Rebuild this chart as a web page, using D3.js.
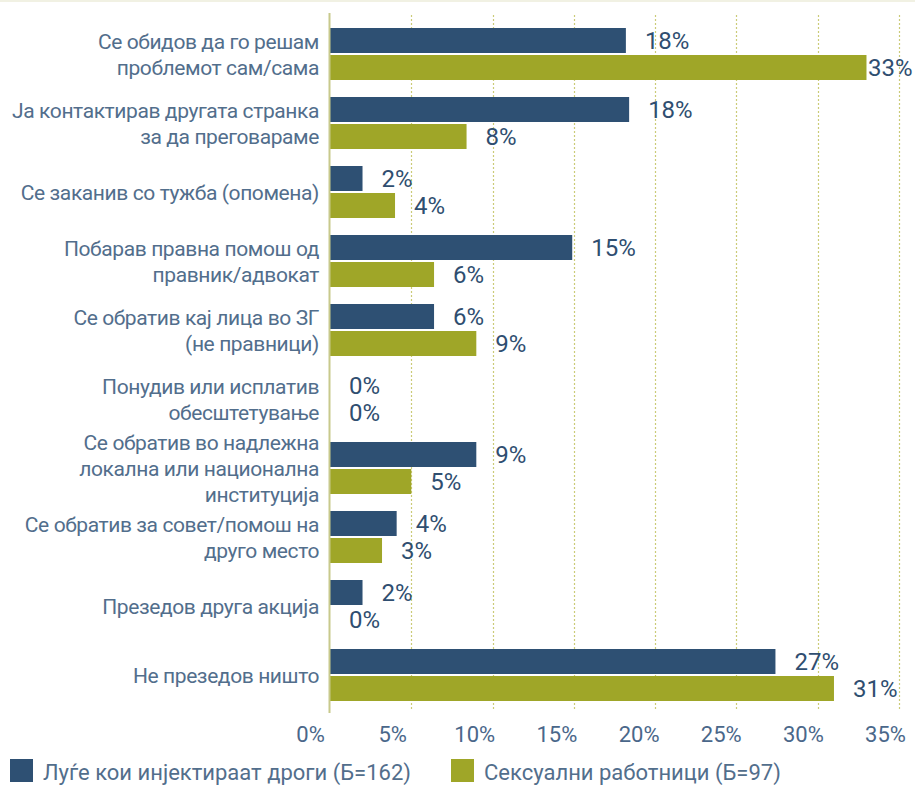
<!DOCTYPE html>
<html>
<head>
<meta charset="utf-8">
<script src="https://cdn.jsdelivr.net/npm/d3@7"></script>
<style>
  body { margin: 0; background: #fff; }
  text { font-family: Roboto, "Noto Sans", sans-serif; }
</style>
</head>
<body>
<svg id="chart" width="915" height="785"></svg>
<script>
// categories (label lines split by \n)
const categories = [
  "Се обидов да го решам\nпроблемот сам/сама",
  "Ја контактирав другата странка\nза да преговараме",
  "Се заканив со тужба (опомена)",
  "Побарав правна помош од\nправник/адвокат",
  "Се обратив кај лица во ЗГ\n(не правници)",
  "Понудив или исплатив\nобесштетување",
  "Се обратив во надлежна\nлокална или национална\nинституција",
  "Се обратив за совет/помош на\nдруго место",
  "Презедов друга акција",
  "Не презедов ништо"
];
const seriesNames = ["Луѓе кои инјектираат дроги (Б=162)", "Сексуални работници (Б=97)"];
const pwidValues = [18.2, 18.4, 2.0, 14.9, 6.4, 0, 9.0, 4.1, 2.0, 27.4];
const swValues = [33.0, 8.4, 4.0, 6.4, 9.0, 0, 5.0, 3.2, 0, 31.0];
const tickValues = [0, 5, 10, 15, 20, 25, 30, 35];
const colors = ["#2e5073", "#9fa628"];

const svg = d3.select("#chart");

// faint frame line at the top
svg.append("rect").attr("x", 0).attr("y", 0).attr("width", 915).attr("height", 2).attr("fill", "#f1f1e3");

const x = d3.scaleLinear().domain([0, 35]).range([330, 899]);
const xLabels = d3.scaleLinear().domain([0, 35]).range([310, 885]);
const y = d3.scaleBand().domain(d3.range(categories.length)).range([19.5, 709.5])
  .paddingInner(17 / 69).paddingOuter(17 / 138);
const y1 = d3.scaleBand().domain([0, 1]).range([0, y.bandwidth()]).paddingInner(2 / 27);

// dotted grid lines
svg.append("g").selectAll("line")
  .data(tickValues.slice(1))
  .enter().append("line")
  .attr("x1", d => Math.round(x(d)) + 0.5)
  .attr("x2", d => Math.round(x(d)) + 0.5)
  .attr("y1", 15).attr("y2", 711)
  .attr("stroke", "#cbcb78")
  .attr("stroke-width", 1.2)
  .attr("stroke-dasharray", "2,2");

// bars
const rows = categories.map((c, i) => ({ i, vals: [pwidValues[i], swValues[i]] }));
const group = svg.append("g").selectAll("g")
  .data(rows)
  .enter().append("g")
  .attr("transform", d => "translate(0," + y(d.i) + ")");

group.selectAll("rect")
  .data(d => d.vals.map((v, s) => ({ v, s })))
  .enter().append("rect")
  .attr("x", x(0))
  .attr("y", d => y1(d.s))
  .attr("width", d => x(d.v) - x(0))
  .attr("height", y1.bandwidth())
  .attr("fill", d => colors[d.s]);

// value labels, kept inside the right edge
group.selectAll("text.val")
  .data(d => d.vals.map((v, s) => ({ v, s })))
  .enter().append("text")
  .attr("class", "val")
  .attr("x", d => Math.min(x(d.v) + 19, 868))
  .attr("y", d => y1(d.s) + y1.bandwidth() / 2)
  .attr("dy", "0.36em")
  .attr("font-size", 24)
  .attr("fill", "#2f4e70")
  .text(d => Math.round(d.v) + "%");

// category labels
group.append("text")
  .attr("text-anchor", "end")
  .attr("font-size", 21)
  .attr("letter-spacing", "-0.4px")
  .attr("fill", "#526e8c")
  .each(function(d) {
    const lines = categories[d.i].split("\n");
    const lh = 26;
    const t = d3.select(this);
    lines.forEach((ln, k) => {
      t.append("tspan")
        .attr("x", 319)
        .attr("y", y.bandwidth() / 2 + (k - (lines.length - 1) / 2) * lh)
        .attr("dy", "0.36em")
        .text(ln);
    });
  });

// vertical axis line
svg.append("line")
  .attr("x1", 329.5).attr("x2", 329.5)
  .attr("y1", 13).attr("y2", 713)
  .attr("stroke", "#c8c98c").attr("stroke-width", 2);

// x tick labels
const axis = svg.append("g")
  .attr("transform", "translate(0,726)")
  .call(d3.axisBottom(xLabels).tickValues(tickValues).tickFormat(d => d + "%").tickSize(0).tickPadding(0));
axis.select(".domain").remove();
axis.selectAll("text")
  .attr("font-size", 22)
  .attr("font-family", "Roboto, sans-serif")
  .attr("fill", "#4a678a");

// legend
const legendX = [10, 451];
const legend = svg.append("g").selectAll("g")
  .data(seriesNames)
  .enter().append("g")
  .attr("transform", (d, i) => "translate(" + legendX[i] + ",759)");
legend.append("rect")
  .attr("width", 23).attr("height", 23)
  .attr("fill", (d, i) => colors[i]);
legend.append("text")
  .attr("x", 33)
  .attr("y", 21)
  .attr("font-size", 22)
  .attr("fill", "#526e8c")
  .text(d => d);
</script>
</body>
</html>
